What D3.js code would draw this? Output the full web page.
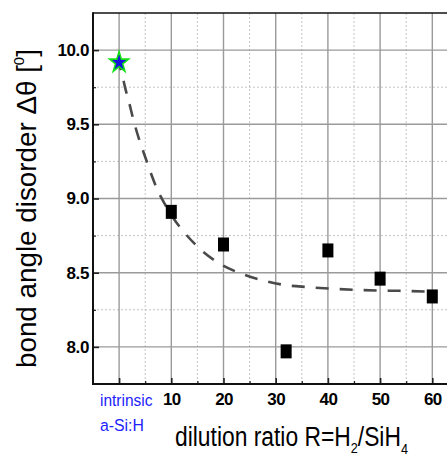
<!DOCTYPE html>
<html>
<head>
<meta charset="utf-8">
<script src="https://cdn.jsdelivr.net/npm/d3@7"></script>
<style>
  html, body { margin: 0; padding: 0; background: #fff; }
  svg { display: block; }
</style>
</head>
<body>
<svg id="chart" width="447" height="456"></svg>
<script>
// ---- data ----
const ratioX = [10, 20, 32, 40, 50, 60];
const disorderY = [8.91, 8.69, 7.97, 8.65, 8.46, 8.34];
const intrinsicX = [0];
const intrinsicY = [9.92];
const fitX = [0, 0.6, 1.2, 1.9, 2.6, 3.3, 4.5, 5.3, 6.2, 7.2, 8.8, 14.6, 19.0, 23.3, 27.6, 31.9, 36.2, 40.7, 45.0, 49.3, 53.6, 60.0];
const fitY = [9.91, 9.83, 9.74, 9.65, 9.55, 9.46, 9.33, 9.25, 9.16, 9.07, 8.96, 8.69, 8.567, 8.495, 8.448, 8.416, 8.403, 8.392, 8.385, 8.38, 8.378, 8.372];
const xMajorTicks = [0, 10, 20, 30, 40, 50, 60];
const xTickLabels = ["", "10", "20", "30", "40", "50", "60"];
const xMinorTicks = [5, 15, 25, 35, 45, 55];
const yMajorTicks = [8.0, 8.5, 9.0, 9.5, 10.0];
const yMinorTicks = [8.25, 8.75, 9.25, 9.75];

// ---- layout ----
const FONT = "'Liberation Sans', Arial, sans-serif";
const svg = d3.select("#chart");
const L = 93, T = 13, B = 384;
const x = d3.scaleLinear().domain([-5, 65]).range([L, L + 70 * 5.22]);
const y = d3.scaleLinear().domain([7.75, 10.25]).range([B, T]);
const R = 447;

// grid
const g = svg.append("g");
g.selectAll(".xmin").data(xMinorTicks).join("line")
  .attr("x1", d => x(d)).attr("x2", d => x(d)).attr("y1", T).attr("y2", B)
  .attr("stroke", "#c4c4c4").attr("stroke-width", 1).attr("stroke-dasharray", "2,2");
g.selectAll(".ymin").data(yMinorTicks).join("line")
  .attr("y1", d => y(d)).attr("y2", d => y(d)).attr("x1", L).attr("x2", R)
  .attr("stroke", "#c4c4c4").attr("stroke-width", 1).attr("stroke-dasharray", "2,2");
g.selectAll(".xmaj").data(xMajorTicks).join("line")
  .attr("x1", d => x(d)).attr("x2", d => x(d)).attr("y1", T).attr("y2", B)
  .attr("stroke", "#9a9a9a").attr("stroke-width", 1.4);
g.selectAll(".ymaj").data(yMajorTicks).join("line")
  .attr("y1", d => y(d)).attr("y2", d => y(d)).attr("x1", L).attr("x2", R)
  .attr("stroke", "#9a9a9a").attr("stroke-width", 1.4);

// axes
const xAxis = d3.axisBottom(x).tickValues(xMajorTicks)
  .tickFormat((d, i) => xTickLabels[i]).tickSize(-6).tickPadding(9);
const gx = svg.append("g").attr("transform", `translate(0,${B})`).call(xAxis);
gx.select(".domain").remove();
gx.selectAll(".tick line").attr("stroke", "#222").attr("stroke-width", 1.6);
gx.selectAll(".tick text").attr("font-family", FONT)
  .attr("font-weight", "bold").attr("font-size", "17px").attr("letter-spacing", "-0.6px").attr("fill", "#000");

const xMinorAxis = d3.axisBottom(x).tickValues(xMinorTicks).tickFormat("").tickSize(-3);
const gxm = svg.append("g").attr("transform", `translate(0,${B})`).call(xMinorAxis);
gxm.select(".domain").remove();
gxm.selectAll(".tick line").attr("stroke", "#222").attr("stroke-width", 1.2);

const yAxis = d3.axisLeft(y).tickValues(yMajorTicks)
  .tickFormat(d3.format(".1f")).tickSize(-6).tickPadding(4);
const gy = svg.append("g").attr("transform", `translate(${L},0)`).call(yAxis);
gy.select(".domain").remove();
gy.selectAll(".tick line").attr("stroke", "#222").attr("stroke-width", 1.6);
gy.selectAll(".tick text").attr("font-family", FONT)
  .attr("font-weight", "bold").attr("font-size", "17px").attr("letter-spacing", "-0.4px").attr("fill", "#000");

const yMinorAxis = d3.axisLeft(y).tickValues(yMinorTicks).tickFormat("").tickSize(-3);
const gym = svg.append("g").attr("transform", `translate(${L},0)`).call(yMinorAxis);
gym.select(".domain").remove();
gym.selectAll(".tick line").attr("stroke", "#222").attr("stroke-width", 1.2);

// frame
svg.append("line").attr("x1", L).attr("x2", R).attr("y1", T).attr("y2", T)
  .attr("stroke", "#111").attr("stroke-width", 1.6);
svg.append("line").attr("x1", L).attr("x2", L).attr("y1", T - 0.8).attr("y2", B + 1)
  .attr("stroke", "#111").attr("stroke-width", 2);
svg.append("line").attr("x1", L - 1).attr("x2", R).attr("y1", B).attr("y2", B)
  .attr("stroke", "#111").attr("stroke-width", 2);

// fit curve
const fitPts = fitX.map((d, i) => [d, fitY[i]]);
svg.append("path").datum(fitPts)
  .attr("d", d3.line().x(d => x(d[0])).y(d => y(d[1])).curve(d3.curveMonotoneX))
  .attr("fill", "none").attr("stroke", "#4a4a4a").attr("stroke-width", 2.6)
  .attr("stroke-dasharray", "13,11").attr("stroke-dashoffset", 6);

// squares
const sw = 11, sh = 14;
svg.selectAll(".sq").data(ratioX.map((d, i) => [d, disorderY[i]])).join("rect")
  .attr("x", d => x(d[0]) - sw / 2).attr("y", d => y(d[1]) - sh / 2)
  .attr("width", sw).attr("height", sh).attr("fill", "#000");

// star
const star = d3.symbol().type(d3.symbolStar).size(112);
svg.selectAll(".star").data(intrinsicX.map((d, i) => [d, intrinsicY[i]])).join("path")
  .attr("d", star)
  .attr("transform", d => `translate(${x(d[0])},${y(d[1]) + 0.5}) scale(1,1.1)`)
  .attr("fill", "#1414d8").attr("stroke", "#16e016").attr("stroke-width", 1.5);

// helper: fit a text group horizontally to a given length (in its own coordinates)
function fitWidth(sel, tx, ty, rot, len) {
  const w = sel.node().getBBox().width;
  const s = len / w;
  sel.attr("transform", `translate(${tx},${ty}) rotate(${rot}) scale(${s},1)`);
}

// intrinsic label
const lab1 = svg.append("text").attr("font-family", FONT).attr("font-size", "17px")
  .attr("fill", "#2222ff").text("intrinsic");
fitWidth(lab1, 100, 406, 0, 53);
const lab2 = svg.append("text").attr("font-family", FONT).attr("font-size", "17px")
  .attr("fill", "#2222ff").text("a-Si:H");
fitWidth(lab2, 100, 430.5, 0, 44);

// x title
const xt = svg.append("text").attr("font-family", FONT).attr("font-size", "27px").attr("fill", "#000");
xt.append("tspan").text("dilution ratio R=H");
xt.append("tspan").attr("font-size", "15px").attr("dy", 7).text("2");
xt.append("tspan").attr("dy", -7).text("/SiH");
xt.append("tspan").attr("font-size", "15px").attr("dy", 8).text("4");
fitWidth(xt, 175, 446, 0, 233);

// y title
const yt = svg.append("text").attr("font-family", FONT).attr("font-size", "28px").attr("fill", "#000");
yt.append("tspan").text("bond angle disorder \u0394\u03b8 [");
yt.append("tspan").attr("font-size", "15px").attr("dy", -12).text("0");
yt.append("tspan").attr("dy", 12).text("]");
fitWidth(yt, 36, 368, -90, 319);
</script>
</body>
</html>
